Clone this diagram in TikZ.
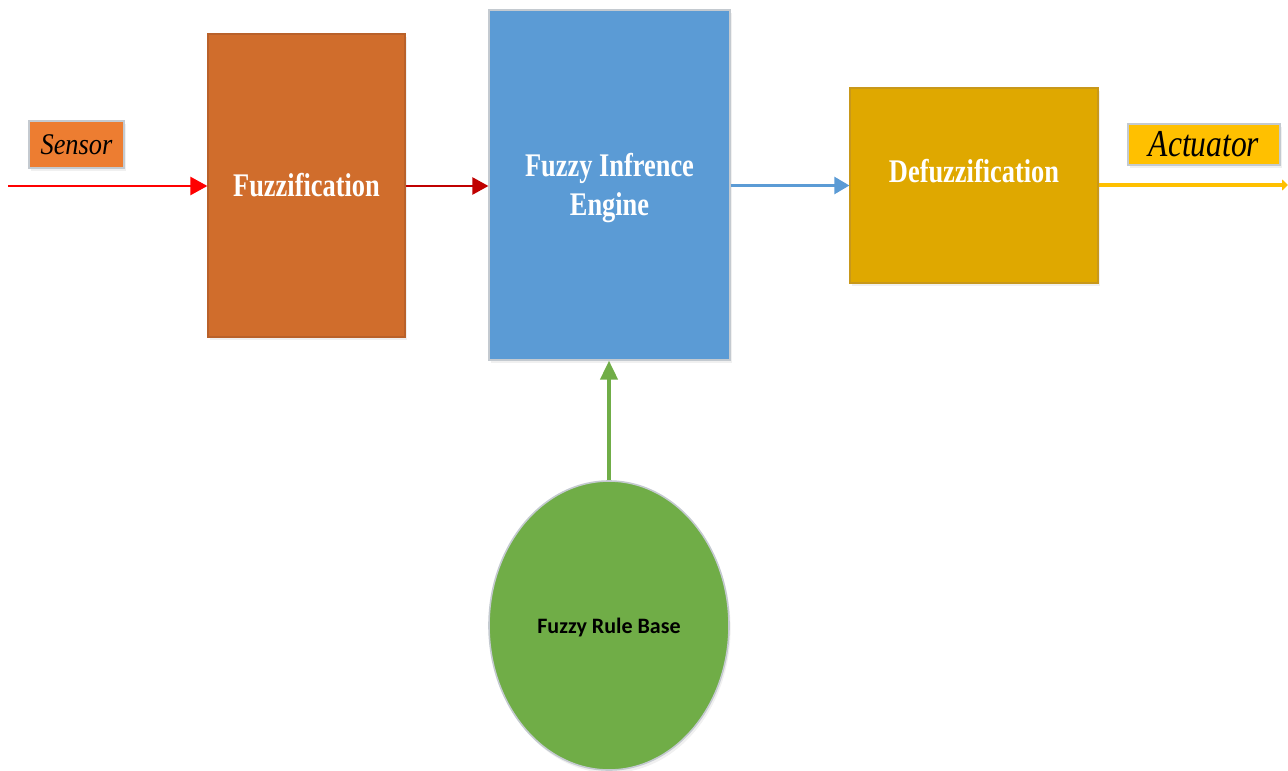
\documentclass[tikz,border=0pt]{standalone}
\usepackage{fontspec}
\usetikzlibrary{arrows.meta,shapes.geometric,shadows}
\newfontfamily\blockfont[FakeStretch=0.8]{Liberation Serif}
\newfontfamily\sensorfont[FakeStretch=0.88]{Liberation Serif}
\newfontfamily\actfont[FakeStretch=0.83]{Liberation Serif}
\newfontfamily\rulefont{Carlito}
\definecolor{fuzzfill}{HTML}{D06D2C}
\definecolor{fuzzedge}{HTML}{B9612A}
\definecolor{engfill}{HTML}{5B9BD5}
\definecolor{defill}{HTML}{DFA800}
\definecolor{deedge}{HTML}{C8981A}
\definecolor{sensfill}{HTML}{ED7D31}
\definecolor{actfill}{HTML}{FFC000}
\definecolor{rulefill}{HTML}{70AD47}
\definecolor{paleedge}{HTML}{C4CAD0}
\definecolor{darkred}{HTML}{C00000}
\tikzset{
  soft/.style={drop shadow={opacity=0.12,shadow xshift=0.8pt,shadow yshift=-1.5pt}},
  block/.style={rectangle,inner sep=0pt,line width=0.6pt,soft,
    font=\blockfont\bfseries\fontsize{16.5}{19}\selectfont,text=white,align=center},
  blocktext/.style={font=\blockfont\bfseries\fontsize{16.5}{19}\selectfont,text=white,align=center},
  tag/.style={rectangle,inner sep=0pt,line width=0.8pt,draw=paleedge,soft},
  flow/.style={line width=1.2pt},
}
\begin{document}
\begin{tikzpicture}[x=0.5pt,y=-0.5pt]
\useasboundingbox (0,0) rectangle (1288,770);

% processing blocks
\node[block,fill=fuzzfill,draw=fuzzedge,minimum width=98.5pt,minimum height=151.5pt]
  (fuzz) at (306.5,185.5) {Fuzzification};
\node[block,fill=engfill,draw=paleedge,minimum width=120.5pt,minimum height=175pt]
  (engine) at (609.5,185) {};
\node[blocktext] (enginetext) at (609.5,188) {Fuzzy Infrence\\[0.5pt]Engine};
\node[block,fill=defill,draw=deedge,minimum width=124pt,minimum height=97.5pt]
  (defuzz) at (974,185.5) {};
\node[blocktext] (defuzztext) at (974,171) {Defuzzification};

% rule base
\node[ellipse,fill=rulefill,draw=paleedge,line width=0.8pt,inner sep=0pt,soft,
  minimum width=120pt,minimum height=144.5pt]
  (rules) at (609,625.5) {};
\node[font=\rulefont\bfseries\fontsize{11}{13}\selectfont]
  (rulestext) at (609,628) {Fuzzy Rule Base};

% input and output tags
\node[tag,fill=sensfill,minimum width=47.5pt,minimum height=23.5pt,
  font=\sensorfont\itshape\fontsize{15}{18}\selectfont]
  (sensor) at (76.5,144.5) {Sensor};
\node[tag,fill=actfill,minimum width=76pt,minimum height=20.5pt,
  font=\actfont\itshape\fontsize{19}{22}\selectfont]
  (actuator) at (1204,144.5) {Actuator};

% signal path
\coordinate (in) at (8,186);
\coordinate (out) at (1288,185);
\draw[flow,red,-{Triangle[length=8.5pt,width=9pt]}] (in) -- (fuzz.west |- in);
\draw[flow,darkred,-{Triangle[length=8pt,width=8.5pt]}] (fuzz.east |- in) -- (engine.west |- in);
\draw[flow,engfill,-{Triangle[length=7.5pt,width=8.5pt]}] (engine.east |- defuzz) -- (defuzz.west);
\draw[line width=2.4pt,actfill,-{Triangle[length=3pt,width=5.5pt]}] (defuzz.east |- out) -- (out);
\draw[line width=2pt,rulefill,-{Triangle[length=9.5pt,width=8.5pt]}] (rules.north) -- (engine.south -| rules.north);
\end{tikzpicture}
\end{document}
